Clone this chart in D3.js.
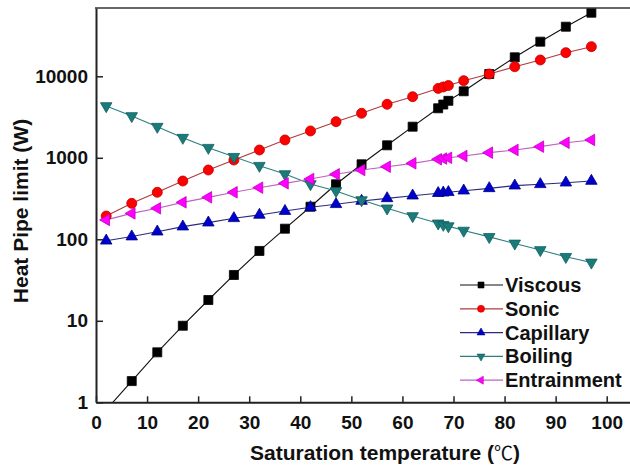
<!DOCTYPE html>
<html>
<head>
<meta charset="utf-8">
<script src="https://cdn.jsdelivr.net/npm/d3@7"></script>
<style>
  html, body { margin: 0; padding: 0; background: #fff; }
  svg { display: block; }
  text { font-family: "Liberation Sans", Arial, sans-serif; font-weight: bold; fill: #111; }
</style>
</head>
<body>
<svg id="chart" width="630" height="471"></svg>
<script>
// ---------- data ----------
const temperatures = [2, 7, 12, 17, 22, 27, 32, 37, 42, 47, 52, 57, 62, 67, 68, 69, 72, 77, 82, 87, 92, 97];
const viscous     = [0.81, 1.82, 4.1, 8.7, 18, 36.5, 72, 135, 251, 473, 832, 1423, 2410, 4050, 4500, 5000, 6550, 10670, 17100, 26600, 40600, 60300];
const sonic       = [193, 276, 377, 519, 708, 939, 1247, 1656, 2135, 2775, 3515, 4530, 5620, 7100, 7400, 7700, 8840, 10670, 13100, 15850, 19500, 23100];
const capillary   = [96, 108, 124, 143, 160, 181, 199, 222, 247, 269, 295, 318, 343, 368, 373, 378, 395, 422, 455, 473, 495, 519];
const boiling     = [4320, 3260, 2410, 1765, 1330, 1030, 800, 632, 477, 392, 303, 240, 193, 157, 151, 145, 128, 107, 89, 74, 61, 52];
const entrainment = [173, 208, 240, 284, 327, 377, 430, 486, 549, 627, 708, 778, 855, 959, 980, 1000, 1052, 1156, 1247, 1370, 1530, 1656];
const seriesNames = ["Viscous", "Sonic", "Capillary", "Boiling", "Entrainment"];
const xTicks = [0, 10, 20, 30, 40, 50, 60, 70, 80, 90, 100];
const yTicks = [1, 10, 100, 1000, 10000];
const xLabel = "Saturation temperature (";
const xUnit = "℃";
const yLabel = "Heat Pipe limit (W)";

// ---------- styles ----------
const styles = {
  Viscous:     { values: viscous,     line: "#111111", fill: "#000000", stroke: "#000000", shape: "square" },
  Sonic:       { values: sonic,       line: "#b03a3a", fill: "#ff0000", stroke: "#c00000", shape: "circle" },
  Capillary:   { values: capillary,   line: "#2a2a80", fill: "#0000cc", stroke: "#00008a", shape: "up" },
  Boiling:     { values: boiling,     line: "#2a7f7f", fill: "#1b7b7b", stroke: "#125e5e", shape: "down" },
  Entrainment: { values: entrainment, line: "#c060c0", fill: "#ff00ff", stroke: "#c000c0", shape: "left" }
};

const svg = d3.select("#chart");
const plotLeft = 96, plotTop = 8, plotBottom = 402.3;
const pxPerUnit = 5.107;
const xMax = 107;
const x = d3.scaleLinear().domain([0, xMax]).range([plotLeft, plotLeft + xMax * pxPerUnit]);
const y = d3.scaleLog().domain([1, Math.pow(10, 4.838)]).range([plotBottom, plotTop]);

svg.append("defs").append("clipPath").attr("id", "plotclip")
  .append("rect").attr("x", plotLeft).attr("y", plotTop).attr("width", 630 - plotLeft).attr("height", plotBottom - plotTop);

function symbolPath(shape, s) {
  if (shape === "square") return d3.symbol(d3.symbolSquare, s * s)();
  if (shape === "circle") return d3.symbol(d3.symbolCircle, Math.PI * s * s / 4)();
  return d3.symbol(d3.symbolTriangle, 0.433 * s * s)();
}
function rot(shape) {
  if (shape === "down") return 180;
  if (shape === "left") return -90;
  return 0;
}

const plot = svg.append("g").attr("clip-path", "url(#plotclip)");
const line = d3.line().x((d, i) => x(temperatures[i])).y(d => y(d));

seriesNames.forEach(name => {
  const st = styles[name];
  plot.append("path").datum(st.values)
    .attr("d", line).attr("fill", "none").attr("stroke", st.line).attr("stroke-width", 1.1);
});
const msize = { square: 9, circle: 10, up: 11.5, down: 11.5, left: 11.5 };
seriesNames.forEach(name => {
  const st = styles[name];
  plot.append("g").selectAll("path").data(st.values).join("path")
    .attr("d", symbolPath(st.shape, msize[st.shape]))
    .attr("transform", (d, i) => `translate(${x(temperatures[i])},${y(d)}) rotate(${rot(st.shape)})`)
    .attr("fill", st.fill).attr("stroke", st.stroke).attr("stroke-width", 0.8);
});

// ---------- axes ----------
const xAxis = d3.axisBottom(x).tickValues(xTicks).tickSizeInner(-6).tickSizeOuter(0).tickPadding(13).tickFormat(d3.format("d"));
const gx = svg.append("g").attr("transform", `translate(0,${plotBottom})`).call(xAxis);
gx.select(".domain").attr("stroke", "#222").attr("stroke-width", 2);
gx.selectAll(".tick line").attr("stroke", "#222").attr("stroke-width", 1.5);
gx.selectAll(".tick text").style("font-size", "19px").style("font-family", "Liberation Sans, Arial, sans-serif").style("font-weight", "bold").attr("fill", "#111");

const yAxis = d3.axisLeft(y).tickValues(yTicks).tickSizeInner(-7).tickSizeOuter(0).tickPadding(8).tickFormat(d3.format("d"));
const gy = svg.append("g").attr("transform", `translate(${plotLeft},0)`).call(yAxis);
gy.select(".domain").attr("stroke", "#222").attr("stroke-width", 2);
gy.selectAll(".tick line").attr("stroke", "#222").attr("stroke-width", 1.5);
gy.selectAll(".tick text").style("font-size", "19px").style("font-family", "Liberation Sans, Arial, sans-serif").style("font-weight", "bold").attr("fill", "#111");

// top frame line
svg.append("line").attr("x1", plotLeft - 1).attr("x2", 630).attr("y1", plotTop).attr("y2", plotTop)
  .attr("stroke", "#333").attr("stroke-width", 1.6);

// ---------- titles ----------
const xt = svg.append("text").attr("x", 385).attr("y", 460).attr("text-anchor", "middle").style("font-size", "21px");
xt.append("tspan").text(xLabel);
xt.append("tspan").text(xUnit).style("font-family", "Noto Sans CJK SC, DejaVu Sans, sans-serif").style("font-weight", "normal").style("font-size", "19px");
xt.append("tspan").text(")");

svg.append("text").attr("transform", "translate(28,211) rotate(-90)")
  .attr("text-anchor", "middle").style("font-size", "21px").text(yLabel);

// ---------- legend ----------
const lmsize = { square: 6, circle: 7, up: 8, down: 8, left: 8 };
const lg = svg.append("g");
seriesNames.forEach((name, i) => {
  const st = styles[name];
  const cy = 285 + i * 23.8;
  lg.append("line").attr("x1", 460).attr("x2", 503).attr("y1", cy).attr("y2", cy)
    .attr("stroke", st.line).attr("stroke-width", 1.2);
  lg.append("path").attr("d", symbolPath(st.shape, lmsize[st.shape]))
    .attr("transform", `translate(481,${cy}) rotate(${rot(st.shape)})`)
    .attr("fill", st.fill).attr("stroke", st.stroke).attr("stroke-width", 0.6);
  lg.append("text").attr("x", 505).attr("y", cy + 7).style("font-size", "20px").text(name);
});
</script>
</body>
</html>
